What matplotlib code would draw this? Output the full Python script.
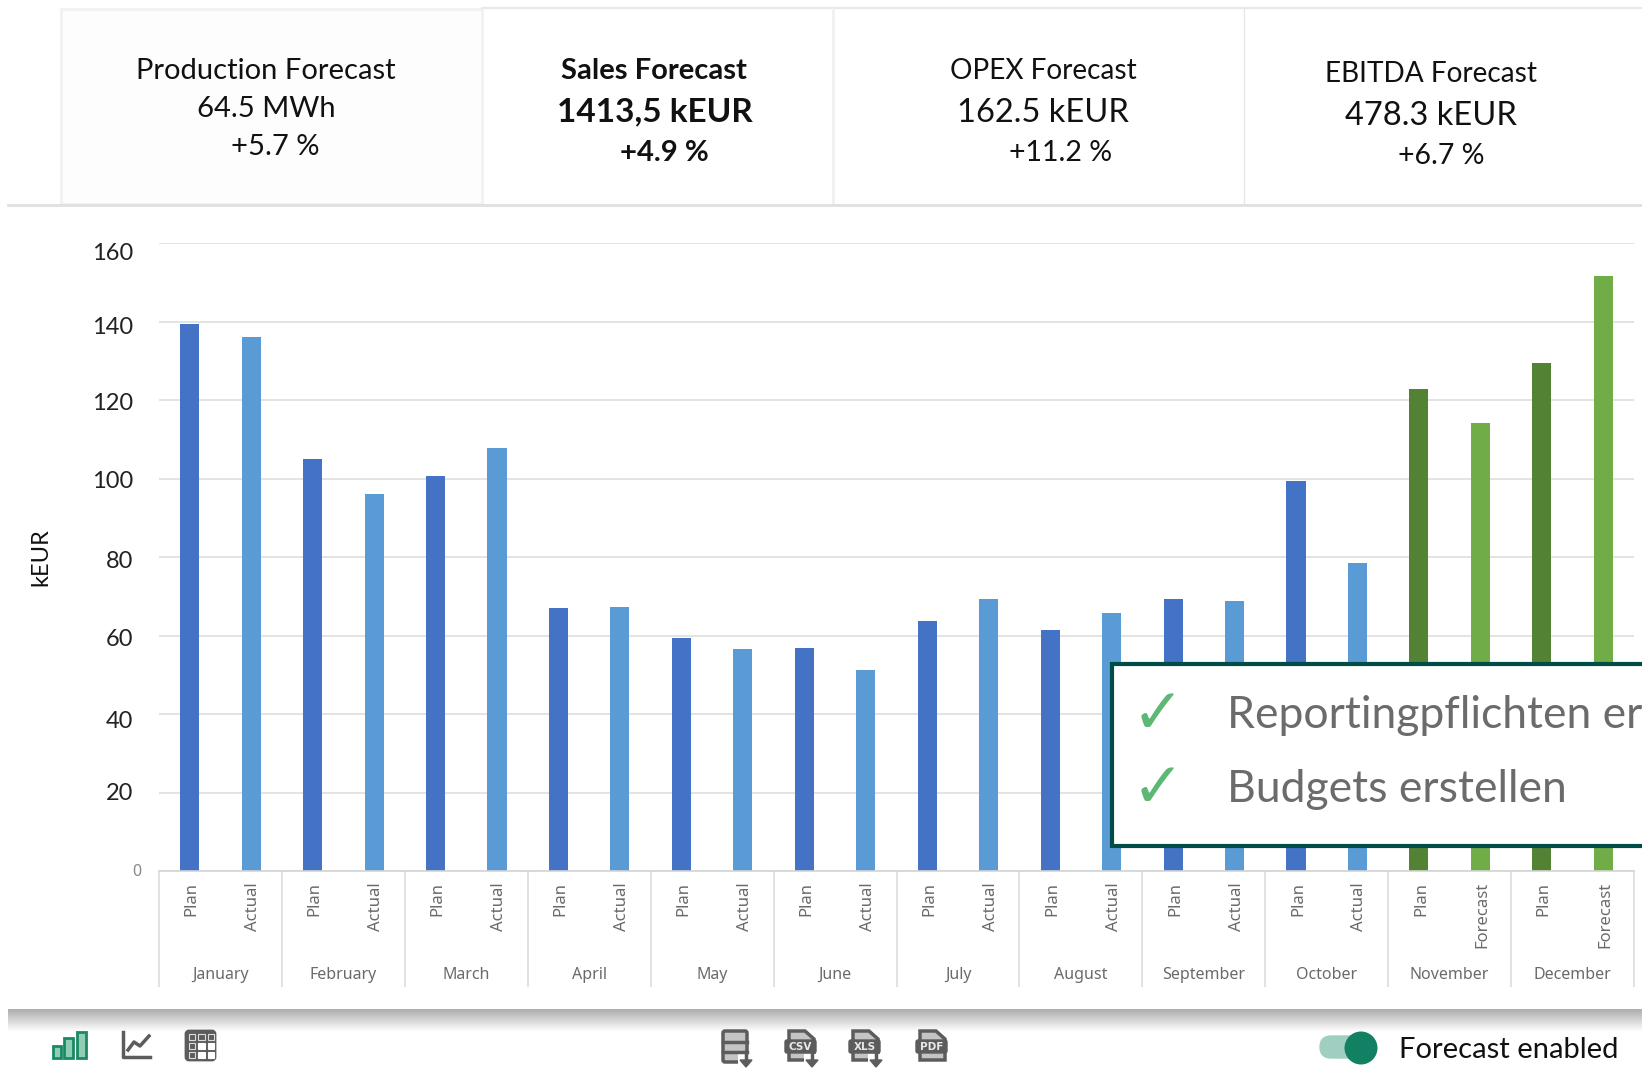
import numpy as np
import matplotlib
matplotlib.use("Agg")
import matplotlib.pyplot as plt
from matplotlib.patches import Rectangle, FancyBboxPatch, Circle, Polygon
from matplotlib.transforms import ScaledTranslation

months = ['January', 'February', 'March', 'April', 'May', 'June', 'July',
          'August', 'September', 'October', 'November', 'December']
plan_values = [139.4, 104.9, 100.6, 67.0, 59.3, 56.9, 63.7, 61.4, 69.3, 99.3, 122.9, 129.4]
second_values = [136.1, 96.1, 107.8, 67.3, 56.6, 51.3, 69.4, 65.8, 68.9, 78.5, 114.1, 151.6]
second_names = ['Actual'] * 10 + ['Forecast'] * 2
y_ticks = [0, 20, 40, 60, 80, 100, 120, 140, 160]

plt.rcParams["font.family"] = ["Lato", "DejaVu Sans"]

W, H = 1642, 1076
fig = plt.figure(figsize=(W / 100, H / 100), dpi=100, facecolor='white')

## chart axes, placed in pixels
left, right, top, bottom = 159, 1634, 243, 871
ax = fig.add_axes([left / W, 1 - bottom / H, (right - left) / W, (bottom - top) / H])
ax.set_xlim(0, 24)
ax.set_ylim(0, 160)
for s in ['top', 'right', 'left']:
    ax.spines[s].set_visible(False)
ax.spines['bottom'].set_color('#d4d4d4')
ax.spines['bottom'].set_linewidth(1.2)
ax.set_axisbelow(True)
ax.yaxis.grid(True, color='#e0e0e0', lw=1.3)
ax.set_yticks(y_ticks)
ax.tick_params(axis='y', length=0, labelleft=False)

xpos = []
heights = []
colors = []
names = []
for i in range(12):
    green = second_names[i] == 'Forecast'
    xpos += [2 * i + 0.5, 2 * i + 1.5]
    heights += [plan_values[i], second_values[i]]
    colors += ['#548235', '#70AD47'] if green else ['#4472C4', '#5B9BD5']
    names += ['Plan', second_names[i]]
ax.bar(xpos, heights, width=0.31, color=colors, zorder=2)

ax.set_xticks(xpos)
ax.set_xticklabels(names, rotation=90, fontsize=12, color='#6a6a6a', family='Noto Sans')
ax.tick_params(axis='x', length=0, pad=8)
## nudge the rotated labels to the right of the bar centre
shift = ScaledTranslation(2 / 100, 0, fig.dpi_scale_trans)
for lab in ax.get_xticklabels():
    lab.set_transform(lab.get_transform() + shift)

## month row under the bars
trans = ax.get_xaxis_transform()
ax.vlines(np.arange(0, 25, 2), -0.185, 0, transform=trans, color='#d8d8d8', lw=1.1, clip_on=False)
for i, m in enumerate(months):
    ax.text(2 * i + 1, -0.165, m, transform=trans, ha='center', va='center',
            fontsize=11.5, color='#6a6a6a', family='Noto Sans')

## everything around the chart, in pixel coordinates
ov = fig.add_axes([0, 0, 1, 1], facecolor='none')
ov.set_xlim(0, W)
ov.set_ylim(H, 0)
ov.axis('off')

## y tick labels sit a bit off the grid lines in the original
label_y = [872, 793, 721, 639, 561, 482, 404, 327, 254]
for v, py in zip(y_ticks, label_y):
    if v == 0:
        ov.text(141, py, '0', ha='right', va='center', fontsize=11.5, color='#888888', family='Noto Sans')
    else:
        ov.text(133, py, str(v), ha='right', va='center', fontsize=17, color='#222222')
ov.text(41, 557, 'kEUR', rotation=90, ha='center', va='center', fontsize=17, color='#111111')

## KPI cards
ov.add_patch(Rectangle((61, 9), 421, 195, fc='#fdfdfd', ec='#f1f1f1', lw=2))
ov.plot([482, W], [8, 8], color='#e8e8e8', lw=1.5)
ov.plot([833, 833], [9, 204], color='#f0f0f0', lw=2)
ov.plot([1244, 1244], [9, 204], color='#e8e8e8', lw=1)
ov.plot([8, W], [205, 205], color='#e0e0e0', lw=2)

cards = [
    (266, 71, 'Production Forecast', 21, 'normal'),
    (266, 109, '64.5 MWh', 21, 'normal'),
    (275, 147, '+5.7 %', 21, 'normal'),
    (654, 71, 'Sales Forecast', 21, 'bold'),
    (655, 112, '1413,5 kEUR', 24, 'bold'),
    (664, 153, '+4.9 %', 21, 'bold'),
    (1043, 71, 'OPEX Forecast', 20.2, 'normal'),
    (1043, 113, '162.5 kEUR', 23.5, 'normal'),
    (1061, 153, '+11.2 %', 20.5, 'normal'),
    (1431, 74, 'EBITDA Forecast', 20.2, 'normal'),
    (1431, 116, '478.3 kEUR', 23.5, 'normal'),
    (1441, 156, '+6.7 %', 20.5, 'normal'),
]
for cx, cy, txt, fs, w in cards:
    ov.text(cx, cy, txt, ha='center', va='center', fontsize=fs, fontweight=w, color='#111111')

## callout box
ov.add_patch(Rectangle((1112, 664), 560, 182, fc='white', ec='#004D47', lw=3, zorder=5))
ov.text(1227, 728, 'Reportingpflichten er', fontsize=32, color='#6b6b6b', va='baseline', zorder=6)
ov.text(1227, 802, 'Budgets erstellen', fontsize=32, color='#6b6b6b', va='baseline', zorder=6)
ov.text(1158, 716, '\u2713', fontsize=45, color='#5cb874', family='DejaVu Sans', ha='center', va='center', zorder=6)
ov.text(1158, 790, '\u2713', fontsize=45, color='#5cb874', family='DejaVu Sans', ha='center', va='center', zorder=6)

## shadow under the chart panel
shade = np.linspace(0.68, 1.0, 24).reshape(-1, 1)
ov.imshow(shade, extent=(8, W, 1032, 1009), cmap='gray', vmin=0, vmax=1, aspect='auto', zorder=1)
ov.set_xlim(0, W)
ov.set_ylim(H, 0)

## view icons
green = '#1b8a63'
for x0, x1, y0 in [(53, 61, 1046), (64, 73, 1038), (77, 86, 1032)]:
    ov.add_patch(Rectangle((x0, y0), x1 - x0, 1058 - y0, fc='#8fcdb5', ec=green, lw=2))
grey = '#5c5c5c'
ov.plot([123, 123, 150], [1032, 1057, 1057], color=grey, lw=2.5)
ov.plot([128, 134, 140, 149], [1050, 1042, 1046, 1036], color=grey, lw=2.5)
ov.add_patch(FancyBboxPatch((186, 1031), 29, 29, boxstyle='round,pad=0,rounding_size=3', fc=grey, ec=grey, lw=2))
for i in range(3):
    for j in range(3):
        empty = i == 0 or j == 0
        ov.add_patch(Rectangle((188.5 + 9.5 * j, 1033.5 + 9 * i), 6.5, 6, fc=grey if empty else 'white',
                               ec='#dddddd' if empty else 'white', lw=0.8))


def file_icon(x, label, arrow):
    ov.add_patch(Polygon([(x + 4, 1031), (x + 20, 1031), (x + 29, 1039), (x + 29, 1060), (x + 4, 1060)],
                         closed=True, fc='#c4c4c4', ec=grey, lw=2.5))
    ov.add_patch(FancyBboxPatch((x, 1040), 31, 13, boxstyle='round,pad=0,rounding_size=2', fc=grey, ec=grey))
    ov.text(x + 15.5, 1047, label, ha='center', va='center', fontsize=7.5, fontweight='bold',
            color='#e8e8e8', family='DejaVu Sans')
    if arrow:
        ov.add_patch(Rectangle((x + 19, 1054), 16, 13, fc='white', ec='none'))
        ov.plot([x + 27, x + 27], [1054, 1063], color=grey, lw=2.5)
        ov.add_patch(Polygon([(x + 21, 1060), (x + 33, 1060), (x + 27, 1067)], closed=True, fc=grey, ec=grey))


## table download icon
ov.add_patch(FancyBboxPatch((723, 1031), 24, 31, boxstyle='round,pad=0,rounding_size=2', fc='#c4c4c4', ec=grey, lw=2.5))
ov.plot([723, 747], [1042, 1042], color=grey, lw=2.5)
ov.plot([723, 747], [1052, 1052], color=grey, lw=2.5)
ov.add_patch(Rectangle((738, 1052), 16, 15, fc='white', ec='none'))
ov.plot([746, 746], [1052, 1063], color=grey, lw=2.5)
ov.add_patch(Polygon([(740, 1060), (752, 1060), (746, 1067)], closed=True, fc=grey, ec=grey))

file_icon(785, 'CSV', True)
file_icon(849, 'XLS', True)
file_icon(916, 'PDF', False)

## forecast toggle
ov.add_patch(FancyBboxPatch((1320, 1036), 40, 22, boxstyle='round,pad=0,rounding_size=11', fc='#9fcfc0', ec='#9fcfc0'))
ov.add_patch(Circle((1361, 1048), 16.5, fc='#128063', ec='none', zorder=4))
ov.text(1399, 1058, 'Forecast enabled', fontsize=21, color='#111111', va='baseline')

plt.savefig('out.png', dpi=100)
